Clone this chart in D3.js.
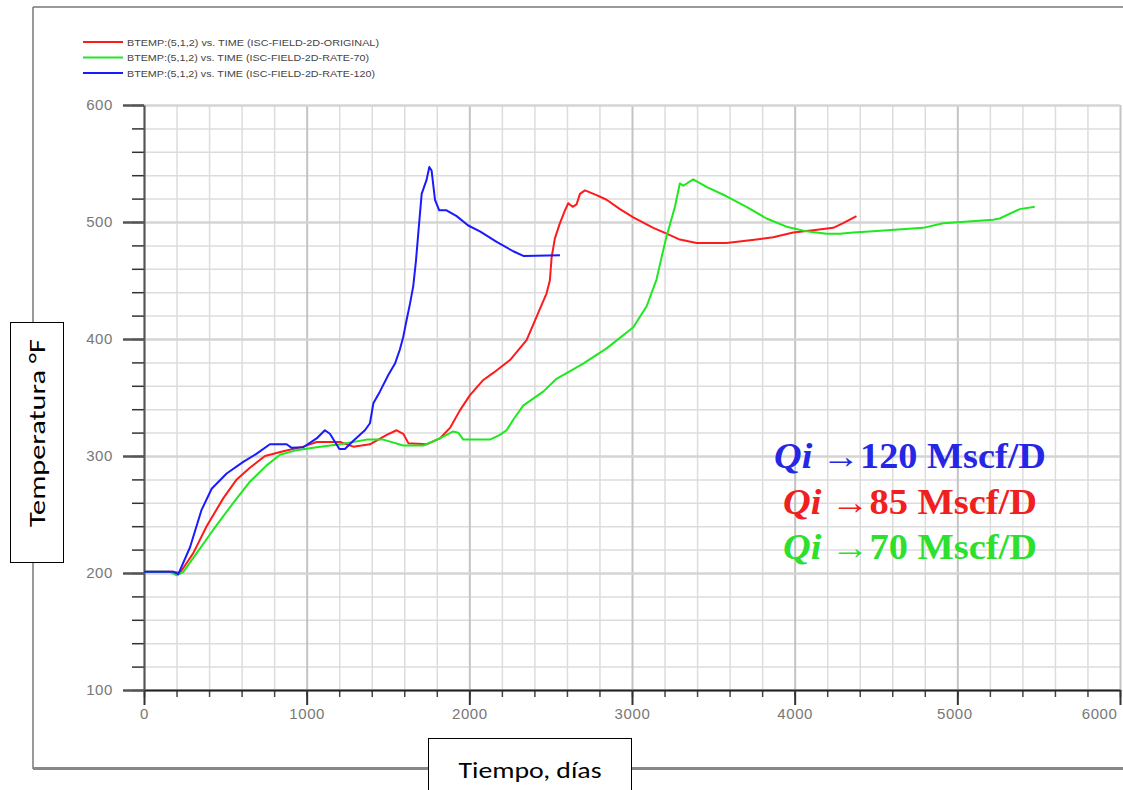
<!DOCTYPE html>
<html><head><meta charset="utf-8">
<script src="https://cdn.jsdelivr.net/npm/d3@7"></script>
<style>
html,body{margin:0;padding:0;background:#fff;}
svg{display:block;}
</style></head>
<body>
<svg id="chart" width="1123" height="790"></svg>
<script>
// ---- data ----
const seriesNames = [
  "BTEMP:(5,1,2) vs. TIME (ISC-FIELD-2D-ORIGINAL)",
  "BTEMP:(5,1,2) vs. TIME (ISC-FIELD-2D-RATE-70)",
  "BTEMP:(5,1,2) vs. TIME (ISC-FIELD-2D-RATE-120)"
];
const seriesColors = ["#ff1a1a", "#1ee81e", "#1a1aff"];

const redTime = [0,180,221,303,385,488,570,651,744,856,979,1061,1205,1287,1389,1492,1553,1594,1625,1737,1819,1881,1942,2004,2086,2147,2250,2352,2413,2475,2495,2506,2526,2557,2588,2608,2635,2659,2680,2711,2782,2844,2926,3008,3131,3213,3294,3397,3581,3765,3868,3991,4114,4237,4298,4380];
const redTemp = [201,201,200,217,240,264,280,290,300,304,308,312,312,308,310,318,322,319,311,310,315,324,339,352,365,371,382,399,419,439,450,470,486,499,510,516,513,515,524,527,523,519,511,504,495,490,485,482,482,485,487,491,493,495,499,505];

const greenTime = [0,160,201,242,324,426,549,651,754,836,938,1061,1205,1369,1471,1594,1717,1819,1901,1932,1963,2065,2127,2188,2229,2270,2331,2454,2536,2700,2844,3008,3090,3151,3182,3213,3264,3294,3315,3376,3458,3581,3704,3827,3950,4073,4196,4278,4360,4483,4790,4913,5220,5260,5384,5476];
const greenTemp = [201,201,198,201,217,237,260,278,292,301,305,307.5,310,314,314,309,309,315,321,320,314,314,314,318,322,331,343,355,366,379,392,410,428,451,470,488,513,533,531,536.5,530,522,513,503,496,492,490,490,491,492,495,499,502,503,511,513];

const blueTime = [0,180,211,283,354,416,508,610,693,774,877,908,979,1061,1112,1143,1201,1235,1287,1358,1389,1410,1450,1501,1543,1573,1594,1614,1635,1655,1672,1686,1707,1737,1754,1768,1789,1815,1860,1922,1993,2065,2168,2270,2332,2557];
const blueTemp = [201,201,199,222,254,272,285,295,302,310,310,307,307.5,315,322,319,306,306,313,322,328,345,355,369,379,391,402,416,430,445,467,490,524,536,547,544,519,510,510,505,497,492,483,475,471,471.5];

const xTicksMajor = [0,1000,2000,3000,4000,5000,6000];
const yTicksMajor = [100,200,300,400,500,600];
const annoNumbers = ["120","85","70"];
const annoColors = ["#2626e6","#f02020","#2ee02e"];

// ---- layout ----
const svg = d3.select("#chart");
const x = d3.scaleLinear().domain([0,6000]).range([144,1120]);
const y = d3.scaleLinear().domain([100,600]).range([690,105]);
const plotH = 585, plotW = 976;
const tickFont = "'Liberation Sans', Arial, sans-serif";
const labelFont = "Carlito, 'Open Sans', 'Liberation Sans', sans-serif";

// outer frame
svg.append("line").attr("x1",33).attr("x2",1123).attr("y1",7).attr("y2",7).attr("stroke","#777").attr("stroke-width",1.5);
svg.append("line").attr("x1",33).attr("x2",33).attr("y1",7).attr("y2",769).attr("stroke","#777").attr("stroke-width",1.5);
svg.append("line").attr("x1",33).attr("x2",1123).attr("y1",768.5).attr("y2",768.5).attr("stroke","#888").attr("stroke-width",3);

// grid: minor
const minorX = d3.range(0,6001,200);
const minorY = d3.range(100,601,20);
const gxMinor = svg.append("g").attr("transform",`translate(0,${y(100)})`)
  .call(d3.axisBottom(x).tickValues(minorX.filter(v=>v%1000!==0)).tickSize(-plotH).tickFormat(""));
gxMinor.select(".domain").remove();
gxMinor.selectAll("line").attr("stroke","#dcdcdc").attr("stroke-width",1.5);
const gyMinor = svg.append("g").attr("transform",`translate(${x(0)},0)`)
  .call(d3.axisLeft(y).tickValues(minorY.filter(v=>v%100!==0)).tickSize(-plotW).tickFormat(""));
gyMinor.select(".domain").remove();
gyMinor.selectAll("line").attr("stroke","#dcdcdc").attr("stroke-width",1.5);
// grid: major
const gxMajor = svg.append("g").attr("transform",`translate(0,${y(100)})`)
  .call(d3.axisBottom(x).tickValues(xTicksMajor).tickSize(-plotH).tickFormat(""));
gxMajor.select(".domain").remove();
gxMajor.selectAll("line").attr("stroke","#c4c4c4").attr("stroke-width",2);
const gyMajor = svg.append("g").attr("transform",`translate(${x(0)},0)`)
  .call(d3.axisLeft(y).tickValues(yTicksMajor).tickSize(-plotW).tickFormat(""));
gyMajor.select(".domain").remove();
gyMajor.selectAll("line").attr("stroke","#d4d4d4").attr("stroke-width",2.5);

// axes: minor ticks
const axXMinor = svg.append("g").attr("transform",`translate(0,${y(100)})`)
  .call(d3.axisBottom(x).tickValues(minorX).tickSize(7).tickFormat(""));
axXMinor.select(".domain").remove();
axXMinor.selectAll("line").attr("stroke","#444").attr("stroke-width",1.5);
const axYMinor = svg.append("g").attr("transform",`translate(${x(0)},0)`)
  .call(d3.axisLeft(y).tickValues(minorY).tickSize(12).tickFormat(""));
axYMinor.select(".domain").remove();
axYMinor.selectAll("line").attr("stroke","#333").attr("stroke-width",1.5);

// axes: major
const axX = svg.append("g").attr("transform",`translate(0,${y(100)})`)
  .call(d3.axisBottom(x).tickValues(xTicksMajor).tickSize(15).tickPadding(3).tickSizeOuter(0).tickFormat(d3.format("d")));
axX.select(".domain").attr("stroke","#222").attr("stroke-width",2);
axX.selectAll("line").attr("stroke","#333").attr("stroke-width",2);
axX.selectAll("text").attr("font-family",tickFont).attr("font-size",15).attr("letter-spacing",0.6).attr("fill","#777");
axX.selectAll(".tick").filter(d=>d===6000).select("text").attr("text-anchor","end").attr("dx",-3);
axX.selectAll(".tick").filter(d=>d===5000).select("text").attr("dx",-3);
const axY = svg.append("g").attr("transform",`translate(${x(0)},0)`)
  .call(d3.axisLeft(y).tickValues(yTicksMajor).tickSize(21).tickPadding(10).tickSizeOuter(0).tickFormat(d3.format("d")));
axY.select(".domain").attr("stroke","#555").attr("stroke-width",2);
axY.selectAll("line").attr("stroke","#555").attr("stroke-width",2.5);
axY.selectAll("text").attr("font-family",tickFont).attr("font-size",15).attr("letter-spacing",0.6).attr("fill","#777");

// series
const series = [
  {t: redTime, v: redTemp},
  {t: greenTime, v: greenTemp},
  {t: blueTime, v: blueTemp}
];
const line = d3.line().x(d=>x(d[0])).y(d=>y(d[1]));
series.forEach((s,i)=>{
  svg.append("path")
    .datum(s.t.map((t,j)=>[t,s.v[j]]))
    .attr("d",line)
    .attr("fill","none")
    .attr("stroke",seriesColors[i])
    .attr("stroke-width",2)
    .attr("stroke-linejoin","round");
});

// legend
seriesNames.forEach((n,i)=>{
  const ly = 42 + i*15.5;
  svg.append("line").attr("x1",83).attr("x2",123).attr("y1",ly).attr("y2",ly)
    .attr("stroke",seriesColors[i]).attr("stroke-width",2);
  svg.append("text").attr("x",127).attr("y",ly+3.5).text(n)
    .attr("font-family",tickFont).attr("font-size",9)
    .attr("fill","#444").attr("textLength", i===0?252:(i===1?242:248)).attr("lengthAdjust","spacingAndGlyphs");
});

// annotation
annoNumbers.forEach((num,i)=>{
  const t = svg.append("text").attr("x",910).attr("y",468 + i*45.5)
    .attr("text-anchor","middle")
    .attr("font-family","'Liberation Serif', 'DejaVu Serif', serif")
    .attr("font-weight","bold").attr("font-size",35).attr("fill",annoColors[i])
    .attr("textLength", i===0?272:254).attr("lengthAdjust","spacingAndGlyphs");
  t.append("tspan").attr("font-style","italic").text("Qi");
  t.append("tspan").text(" →" + num + " Mscf/D");
});

// y label box
svg.append("rect").attr("x",10.5).attr("y",322.5).attr("width",53).attr("height",240)
  .attr("fill","#fff").attr("stroke","#000").attr("stroke-width",1);
svg.append("text").attr("transform","translate(45,433) rotate(-90)")
  .attr("text-anchor","middle").attr("font-family",labelFont)
  .attr("font-size",23).attr("fill","#000")
  .attr("textLength",188).attr("lengthAdjust","spacingAndGlyphs").text("Temperatura °F");

// x label box
svg.append("rect").attr("x",428.5).attr("y",738.5).attr("width",203).attr("height",60)
  .attr("fill","#fff").attr("stroke","#000").attr("stroke-width",1);
svg.append("text").attr("x",530).attr("y",778)
  .attr("text-anchor","middle").attr("font-family",labelFont)
  .attr("font-size",23).attr("fill","#000")
  .attr("textLength",143).attr("lengthAdjust","spacingAndGlyphs").text("Tiempo, días");
</script>
</body></html>
